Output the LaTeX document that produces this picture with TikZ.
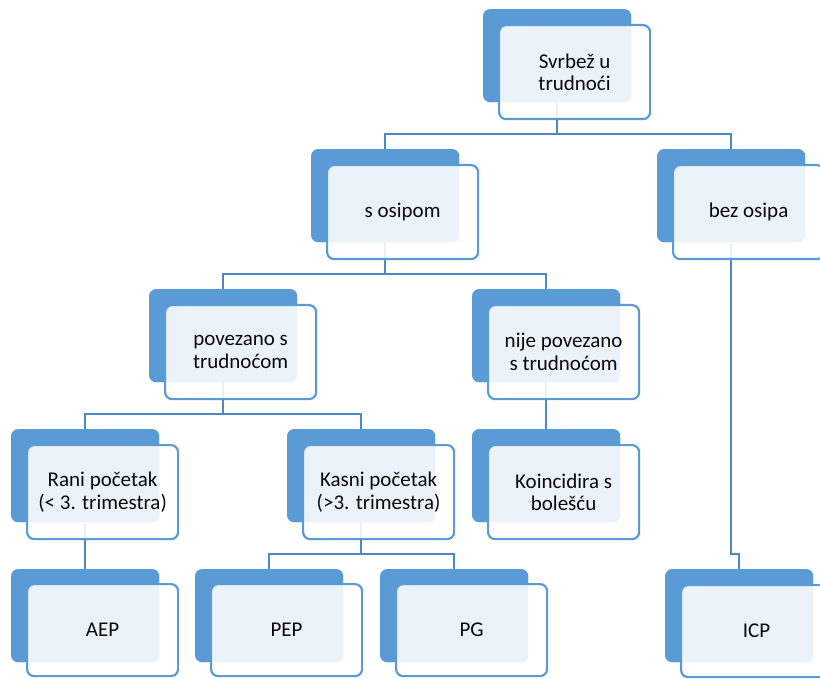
\documentclass[tikz,border=0pt]{standalone}
\usepackage{fontspec}
\setmainfont{Carlito}
\definecolor{boxblue}{HTML}{5B9BD5}
\definecolor{linkblue}{HTML}{4F87C4}
\definecolor{txt}{HTML}{0A0A0A}
\tikzset{
  backbox/.style={anchor=north west, fill=boxblue, draw=none, rounded corners=7pt,
    minimum width=148pt, minimum height=93pt, inner sep=0pt},
  frontbox/.style={anchor=north west, fill=white, fill opacity=0.88, text opacity=1,
    draw=boxblue, draw opacity=1, line width=2.2pt, rounded corners=7pt,
    minimum width=151pt, minimum height=94pt, inner sep=0pt, align=center,
    text=txt, font=\fontsize{21pt}{22.5pt}\selectfont},
  lowbox/.style={frontbox, minimum height=92pt},
  link/.style={draw=linkblue, line width=2pt}
}
\begin{document}
\begin{tikzpicture}[x=1pt,y=-1pt]
\useasboundingbox (0,0) rectangle (820,679);
\coordinate (b1) at (0,134);
\coordinate (b2) at (0,274);
\coordinate (b3) at (0,414);
\coordinate (b4) at (0,554);
% back boxes (named for connectors)
\node[backbox] (root) at (483,9) {};
\node[backbox] (sos) at (311,149) {};
\node[backbox] (bez) at (657,149) {};
\node[backbox] (pov) at (149,289) {};
\node[backbox] (nije) at (472,289) {};
\node[backbox] (rani) at (11,429) {};
\node[backbox] (kasni) at (287,429) {};
\node[backbox] (koin) at (472,429) {};
\node[backbox] (aep) at (11,569) {};
\node[backbox] (pep) at (195,569) {};
\node[backbox] (pg) at (380,569) {};
\node[backbox] (icp) at (665,569) {};
% connectors
\draw[link] (root.south) -- (root.south |- b1);
\draw[link] (sos.north) |- (bez.north |- b1) -- (bez.north);
\draw[link] (sos.south) -- (sos.south |- b2);
\draw[link] (pov.north) |- (nije.north |- b2) -- (nije.north);
\draw[link] (pov.south) -- (pov.south |- b3);
\draw[link] (rani.north) |- (kasni.north |- b3) -- (kasni.north);
\draw[link] (nije.south) -- (koin.north);
\draw[link] (rani.south) -- (aep.north);
\draw[link] (kasni.south) -- (kasni.south |- b4);
\draw[link] (pep.north) |- (pg.north |- b4) -- (pg.north);
\draw[link] (bez.south) -- (bez.south |- b4) -| (icp.north);
% redraw back boxes above connectors
\foreach \n/\x/\y in {r2/483/9, s2/311/149, bz2/657/149, p2/149/289, nj2/472/289,
  ra2/11/429, ka2/287/429, ko2/472/429, ae2/11/569, pe2/195/569, pgg2/380/569, ic2/665/569}
  \node[backbox] (\n) at (\x,\y) {};
% front boxes with text
\node[frontbox] (rootf) at (498,24) {Svrbež u\\trudnoći};
\node[frontbox] (sosf) at (326,164) {s osipom};
\node[frontbox] (bezf) at (672,164) {bez osipa};
\node[frontbox] (povf) at (164,304) {povezano s\\trudnoćom};
\node[frontbox] (nijef) at (487,304) {nije povezano\\s trudnoćom};
\node[frontbox] (ranif) at (26,444) {Rani početak\\(< 3. trimestra)};
\node[frontbox] (kasnif) at (302,444) {Kasni početak\\(>3. trimestra)};
\node[frontbox] (koinf) at (487,444) {Koincidira s\\bolešću};
\node[lowbox] (aepf) at (26,583) {AEP};
\node[lowbox] (pepf) at (210,583) {PEP};
\node[lowbox] (pgf) at (395,583) {PG};
\node[lowbox] (icpf) at (680,584) {ICP};
\end{tikzpicture}
\end{document}
